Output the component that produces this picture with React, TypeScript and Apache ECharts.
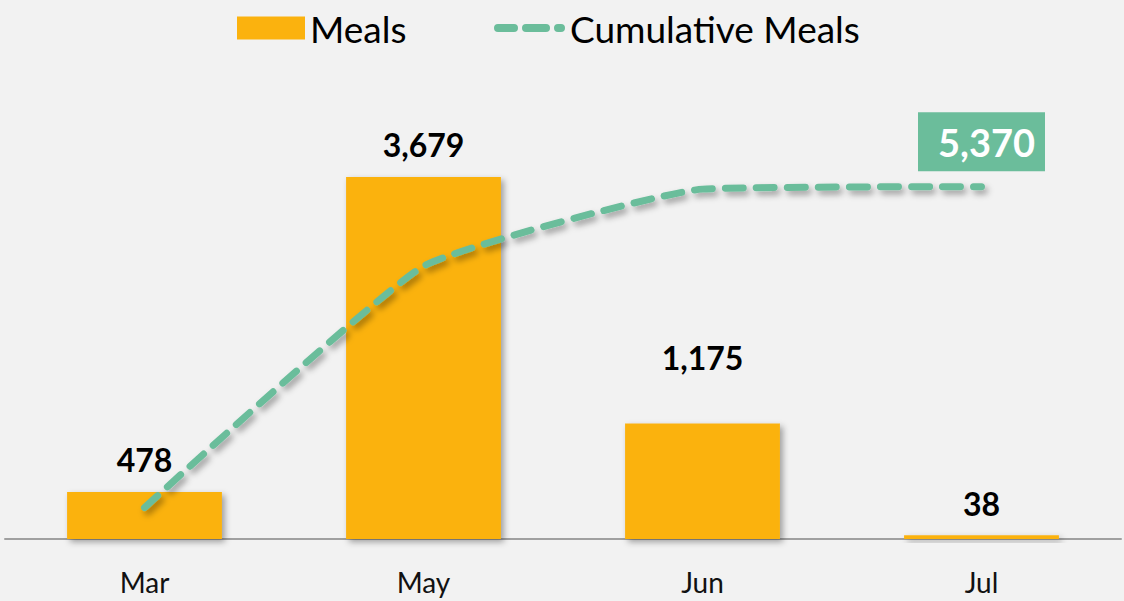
import React, { useEffect, useRef } from "react";
import * as echarts from "echarts";

const categories = ["Mar", "May", "Jun", "Jul"];
const meals = [478, 3679, 1175, 38];
const cumulativeMeals = [478, 4157, 5332, 5370];

const BAR = "#FBB20E";
const GREEN = "#6BBD9B";
const FONT = "Lato, 'Noto Sans', sans-serif";

const DASH_ICON =
  "path://M4,0 H20 A4,4 0 0 1 20,8 H4 A4,4 0 0 1 4,0 Z M32,0 H52 A4,4 0 0 1 52,8 H32 A4,4 0 0 1 32,0 Z M64,0 H67 A4,4 0 0 1 67,8 H64 A4,4 0 0 1 64,0 Z";

export default function App() {
  const ref = useRef<HTMLDivElement>(null);
  useEffect(() => {
    if (!ref.current) return;
    const chart = echarts.init(ref.current, null, { renderer: "svg" });
    const last = cumulativeMeals.length - 1;
    const legendText = { fontSize: 37, color: "#000", fontFamily: FONT, lineHeight: 40 };
    const fmt = (p: any) => Number(p.value).toLocaleString("en-US");
    chart.setOption({
      animation: false,
      backgroundColor: "#F2F2F2",
      textStyle: { fontFamily: FONT },
      legend: [
        {
          top: 8,
          left: 237,
          padding: 0,
          itemWidth: 68,
          itemHeight: 23,
          textStyle: legendText,
          data: [{ name: "Meals", icon: "rect" }],
        },
        {
          top: 8,
          left: 494,
          padding: 0,
          itemWidth: 71,
          itemHeight: 8,
          textStyle: legendText,
          data: [{ name: "Cumulative Meals", icon: DASH_ICON, itemStyle: { color: GREEN } }],
        },
      ],
      grid: { left: 5, right: 3, top: 60, bottom: 62, containLabel: false },
      xAxis: {
        type: "category",
        data: categories,
        axisLine: { show: true, lineStyle: { color: "#A0A0A0", width: 2 } },
        axisTick: { show: false },
        axisLabel: { fontSize: 28, color: "#111", margin: 29, fontFamily: FONT },
      },
      yAxis: [
        { type: "value", min: 0, max: 4868, show: false, splitLine: { show: false } },
        { type: "value", min: 0, max: 7300, show: false, splitLine: { show: false } },
      ],
      series: [
        {
          name: "Meals",
          type: "bar",
          data: meals.map((v, i) =>
            categories[i] === "Jun" ? { value: v, label: { offset: [0, -34] } } : v
          ),
          yAxisIndex: 0,
          barWidth: "55.5%",
          itemStyle: {
            color: BAR,
            shadowColor: "rgba(0,0,0,0.35)",
            shadowBlur: 6,
            shadowOffsetX: 3,
            shadowOffsetY: 3,
          },
          label: {
            show: true,
            position: "top",
            distance: 16,
            fontSize: 32,
            fontWeight: "bold",
            color: "#000",
            fontFamily: FONT,
            formatter: fmt,
          },
        },
        {
          name: "Cumulative Meals",
          type: "line",
          yAxisIndex: 1,
          data: cumulativeMeals,
          smooth: 0.13,
          showSymbol: false,
          symbol: "none",
          itemStyle: { color: GREEN },
          lineStyle: {
            color: GREEN,
            width: 7,
            type: [18, 13],
            cap: "round",
            shadowColor: "rgba(0,0,0,0.35)",
            shadowBlur: 6,
            shadowOffsetX: 3,
            shadowOffsetY: 4,
          },
          markPoint: {
            silent: true,
            data: [
              {
                coord: [last, cumulativeMeals[last]],
                value: cumulativeMeals[last],
                symbol: "rect",
                symbolSize: [127, 59],
                symbolOffset: [0, -45],
                itemStyle: { color: GREEN },
                label: {
                  show: true,
                  position: "inside",
                  offset: [5, 0],
                  formatter: fmt,
                  color: "#fff",
                  fontWeight: "bold",
                  fontSize: 38,
                  fontFamily: FONT,
                },
              },
            ],
          },
          z: 3,
        },
      ],
    });
    return () => chart.dispose();
  }, []);
  return <div ref={ref} style={{ width: 1124, height: 601, position: "absolute", left: 0, top: 0 }} />;
}
